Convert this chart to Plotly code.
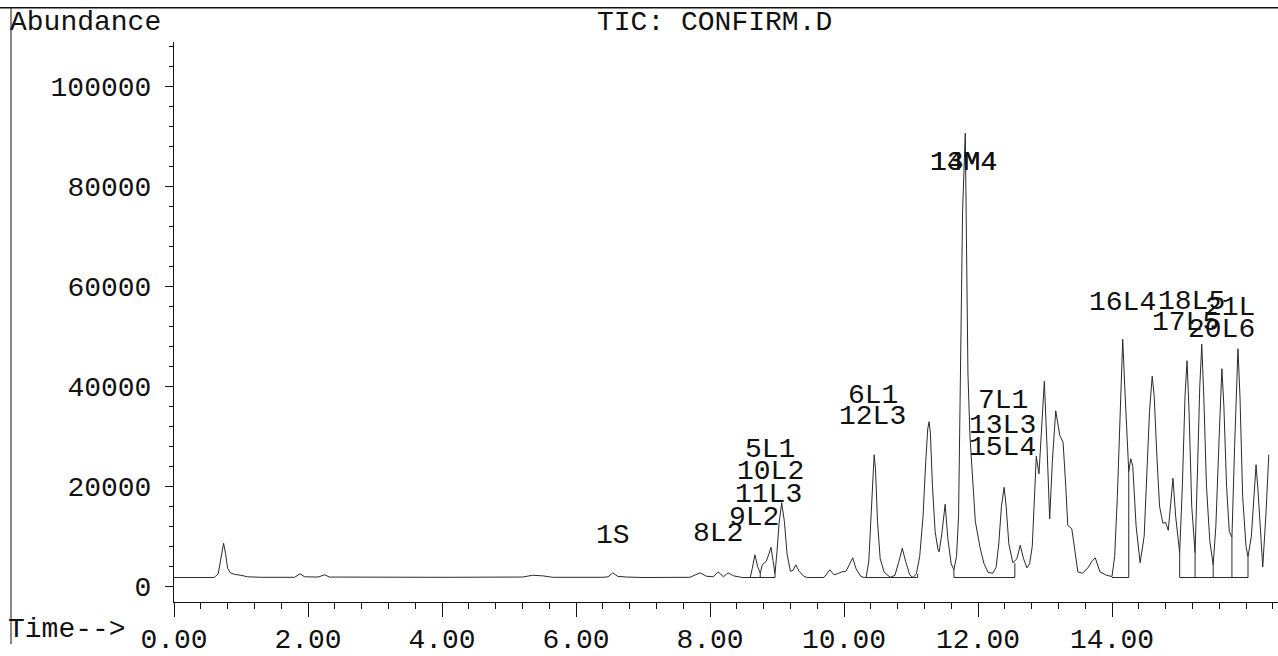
import plotly.graph_objects as go

# ---- data: total ion chromatogram ----
time_min = [
    0.00, 0.60, 0.66, 0.70, 0.74, 0.77, 0.80, 0.84, 0.90, 1.00, 1.10, 1.30, 1.80, 1.88, 1.95, 2.15, 2.25,
    2.32, 3.00, 4.00, 5.20, 5.35, 5.50, 5.65, 6.40, 6.48, 6.55, 6.62, 6.75, 7.00, 7.70, 7.85, 7.95, 8.05,
    8.12, 8.20, 8.27, 8.35, 8.48, 8.60, 8.63, 8.67, 8.71, 8.75, 8.78, 8.84, 8.88, 8.91, 8.94, 8.97, 9.00,
    9.03, 9.07, 9.11, 9.15, 9.20, 9.24, 9.28, 9.33, 9.40, 9.45, 9.70, 9.79, 9.85, 9.92, 9.97, 10.03,
    10.08, 10.13, 10.18, 10.25, 10.30, 10.33, 10.37, 10.40, 10.43, 10.45, 10.47, 10.50, 10.54, 10.60,
    10.69, 10.76, 10.82, 10.87, 10.92, 10.98, 11.03, 11.08, 11.13, 11.18, 11.22, 11.25, 11.27, 11.29,
    11.32, 11.36, 11.40, 11.42, 11.46, 11.51, 11.55, 11.60, 11.64, 11.68, 11.71, 11.74, 11.77, 11.81,
    11.83, 11.85, 11.88, 11.91, 11.96, 12.03, 12.09, 12.15, 12.22, 12.27, 12.31, 12.35, 12.39, 12.42,
    12.46, 12.52, 12.58, 12.63, 12.68, 12.73, 12.77, 12.81, 12.85, 12.87, 12.91, 12.95, 12.99, 13.03,
    13.07, 13.11, 13.16, 13.22, 13.27, 13.31, 13.34, 13.40, 13.45, 13.49, 13.56, 13.64, 13.70, 13.75,
    13.82, 13.92, 14.00, 14.04, 14.08, 14.12, 14.16, 14.19, 14.22, 14.25, 14.28, 14.31, 14.36, 14.42,
    14.48, 14.52, 14.56, 14.60, 14.63, 14.67, 14.71, 14.76, 14.80, 14.84, 14.88, 14.91, 14.95, 15.01,
    15.05, 15.09, 15.12, 15.15, 15.19, 15.24, 15.28, 15.31, 15.34, 15.37, 15.41, 15.46, 15.51, 15.55,
    15.60, 15.64, 15.67, 15.71, 15.75, 15.79, 15.83, 15.86, 15.88, 15.91, 15.95, 16.00, 16.03, 16.08,
    16.12, 16.15, 16.18, 16.22, 16.25, 16.30, 16.34,
]
abundance = [
    1760, 1760, 2500, 5500, 8600, 6500, 3600, 2700, 2400, 2200, 1900, 1800, 1800, 2500, 1900, 1850, 2300,
    1850, 1800, 1800, 1850, 2200, 2100, 1800, 1800, 1900, 2700, 2000, 1850, 1760, 1800, 2700, 2000, 1900,
    2900, 1900, 2700, 2100, 1760, 1760, 3500, 6300, 4000, 2600, 4300, 5000, 6500, 7800, 5200, 2500, 7000,
    12500, 16700, 13000, 6500, 3000, 3200, 4300, 3000, 2000, 1760, 1760, 3300, 2300, 2600, 2900, 3000,
    4200, 5700, 3500, 2000, 1760, 1800, 5000, 13000, 23500, 26300, 23500, 13000, 5500, 2800,
    1800, 2200, 5000, 7600, 5000, 2300, 1760, 2500, 6000, 14000, 25000, 31500, 32900, 30500,
    20000, 11000, 7500, 6900, 10500, 16400, 9500, 4500, 3300, 6000, 14000, 42500, 75000, 90600,
    70000, 42500, 30000, 22900, 13000, 7800, 4500, 2800, 2600, 3800, 8500, 16000, 19800, 16000,
    8500, 4700, 5500, 8200, 5500, 3700, 4500, 8000, 20000, 26000, 22500, 33000, 41000, 28000,
    13500, 25000, 35100, 30200, 28800, 20000, 12200, 11500, 7000, 2900, 2600, 3700, 5000, 5700,
    2900, 2200, 1960, 6000, 18000, 36000, 49400, 40000, 30000, 22900, 25500, 24000, 12000, 4700,
    10000, 22000, 35000, 42000, 38000, 26000, 16000, 12600, 12800, 11200, 17000, 21600, 14000, 6700,
    20000, 38000, 45100, 35000, 16000, 6700, 25000, 40000, 48400, 38000, 20000, 9000, 4300, 12000,
    30000, 43500, 36000, 20000, 11000, 9800, 28000, 42000, 47500, 38000, 18000, 8000, 5900, 10000,
    19000, 24300, 19000, 9000, 3900, 15000, 26300,
]

# integration baselines / drop lines (time, abundance), None separates segments
integ_t = [8.60, 8.97, None, 8.75, 8.75, None, 8.97, 8.97, None,
           10.33, 11.10, None, 11.10, 11.10, None,
           11.64, 12.55, None, 11.64, 11.64, None, 12.55, 12.55, None,
           14.00, 14.25, None, 14.25, 14.25, None,
           15.01, 16.03, None, 15.01, 15.01, None, 15.24, 15.24, None, 15.51, 15.51, None,
           15.79, 15.79, None, 16.03, 16.03]
integ_a = [1760, 1760, None, 1760, 2600, None, 1760, 2500, None,
           1760, 1760, None, 1760, 2500, None,
           1760, 1760, None, 1760, 3300, None, 1760, 4600, None,
           1760, 1760, None, 1760, 22900, None,
           1760, 1760, None, 1760, 6700, None, 1760, 6700, None, 1760, 4300, None,
           1760, 9800, None, 1760, 5900]

# peak labels
label_text = ["1S", "8L2", "9L2", "11L3", "10L2", "5L1", "6L1", "12L3", "7L1", "13L3", "15L4",
              "13M4", "14M4", "16L4", "18L5", "21L", "17L5", "20L6"]
label_t = [6.55, 8.12, 8.66, 8.88, 8.90, 8.90, 10.43, 10.42, 12.37, 12.37, 12.37,
           11.79, 11.79, 14.15, 15.19, 15.76, 15.09, 15.64]
label_a = [10200, 10590, 13730, 18430, 22940, 27450, 38240, 33920, 37060, 32160, 27840,
           84710, 84710, 56670, 56860, 55690, 52750, 51370]

y_ticks = [0, 20000, 40000, 60000, 80000, 100000]
x_ticks = [0, 2, 4, 6, 8, 10, 12, 14]
x_tick_labels = ["0.00", "2.00", "4.00", "6.00", "8.00", "10.00", "12.00", "14.00"]

FONT = "Liberation Mono, Courier New, monospace"
W, H = 1278, 656
L, R, T, B = 174, 0, 42, 43
pw, ph = W - L - R, H - T - B

def px(xp):
    return (xp - L) / pw

def py(yp):
    return (H - B - yp) / ph

fig = go.Figure()
fig.add_trace(go.Scatter(x=time_min, y=abundance, mode="lines",
                         line=dict(color="#2a2a2a", width=1), hoverinfo="skip"))
fig.add_trace(go.Scatter(x=integ_t, y=integ_a, mode="lines",
                         line=dict(color="#2a2a2a", width=1), hoverinfo="skip"))

for txt, t, a in zip(label_text, label_t, label_a):
    fig.add_annotation(x=t, y=a, text=txt, showarrow=False,
                       font=dict(family=FONT, size=28, color="#111"),
                       xanchor="center", yanchor="middle")

fig.add_annotation(xref="paper", yref="paper", x=px(714), y=py(22), text="TIC: CONFIRM.D",
                   showarrow=False, font=dict(family=FONT, size=28, color="#111"),
                   xanchor="center", yanchor="middle")
fig.add_annotation(xref="paper", yref="paper", x=px(8), y=py(22), text="Abundance",
                   showarrow=False, font=dict(family=FONT, size=28, color="#111"),
                   xanchor="left", yanchor="middle")
fig.add_annotation(xref="paper", yref="paper", x=px(6), y=py(641), text="Time-->",
                   showarrow=False, font=dict(family=FONT, size=28, color="#111"),
                   xanchor="left", yanchor="middle")

# page frame lines
fig.add_shape(type="line", xref="paper", yref="paper", x0=px(0), x1=px(W), y0=py(7), y1=py(7),
              line=dict(color="#111", width=1.5))
fig.add_shape(type="line", xref="paper", yref="paper", x0=px(11), x1=px(11), y0=py(7), y1=py(H),
              line=dict(color="#111", width=1))

fig.update_layout(
    width=W, height=H, autosize=False,
    margin=dict(l=L, r=R, t=T, b=B),
    paper_bgcolor="white", plot_bgcolor="white",
    showlegend=False,
    font=dict(family=FONT, size=28, color="#111"),
    xaxis=dict(range=[0, pw / 67.0], showgrid=False, zeroline=False,
               showline=True, linecolor="#111", linewidth=1,
               tickmode="array", tickvals=x_ticks, ticktext=x_tick_labels,
               ticks="outside", ticklen=14, tickcolor="#111", tickwidth=1,
               minor=dict(dtick=0.4, tick0=0, ticks="outside", ticklen=6, tickcolor="#111"),
               ticklabelstandoff=-3,
               tickfont=dict(family=FONT, size=28, color="#111")),
    yaxis=dict(range=[(597 - 613) / 0.0051, (597 - 42) / 0.0051], showgrid=False, zeroline=False,
               showline=True, linecolor="#111", linewidth=1,
               tickmode="array", tickvals=y_ticks, ticktext=[str(v) for v in y_ticks],
               ticks="outside", ticklen=8, tickcolor="#111", tickwidth=1,
               minor=dict(dtick=4000, tick0=0, ticks="outside", ticklen=4, tickcolor="#111"),
               ticklabelstandoff=8,
               tickfont=dict(family=FONT, size=28, color="#111")),
)

fig.write_html("out.html", config={"displayModeBar": False},
               post_script="document.body.style.margin='0';document.body.style.overflow='hidden';")
